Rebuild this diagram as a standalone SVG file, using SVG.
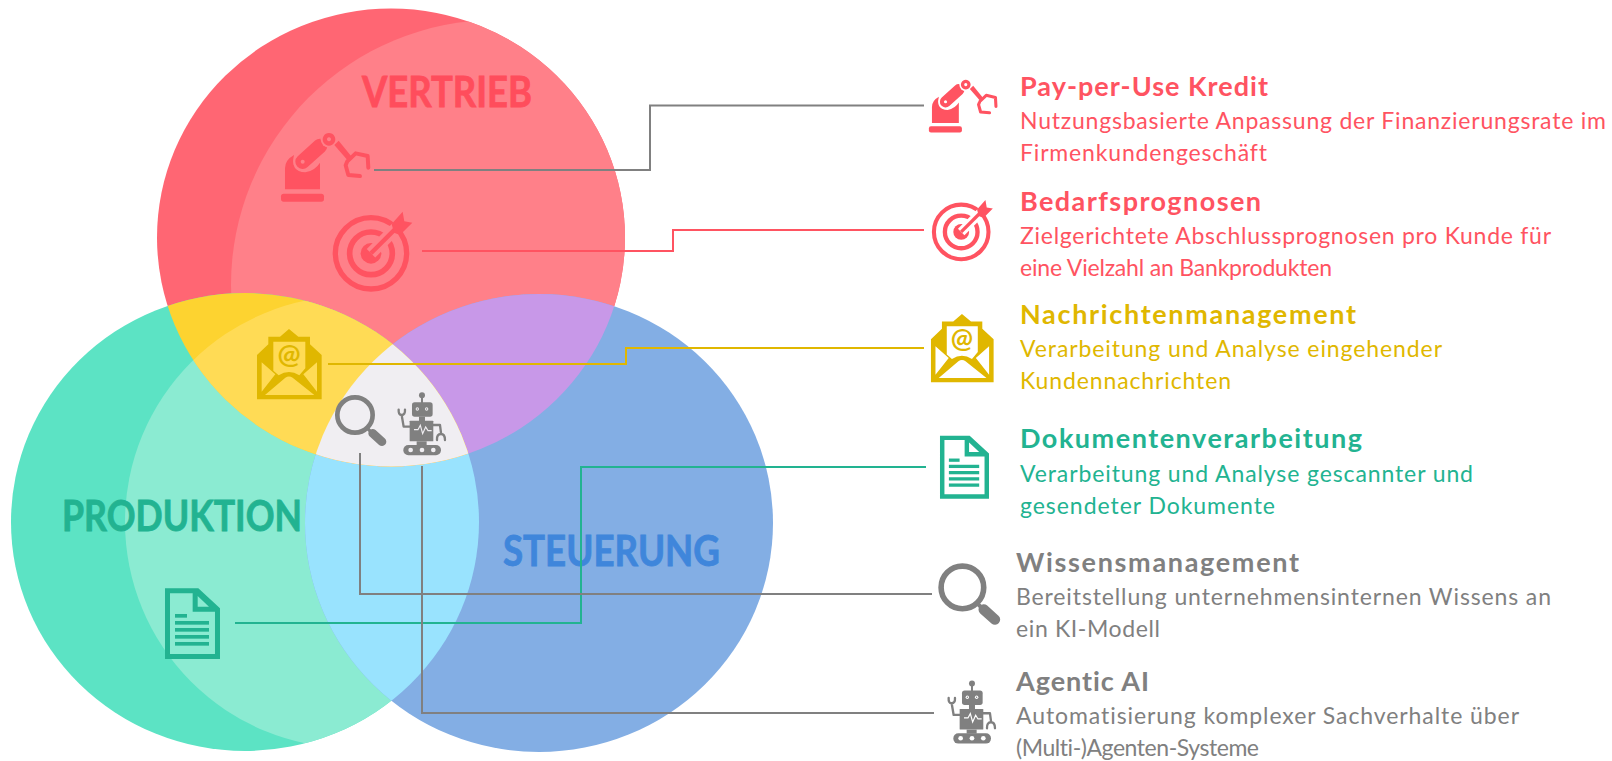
<svg xmlns="http://www.w3.org/2000/svg" xmlns:xlink="http://www.w3.org/1999/xlink" width="1612" height="761" viewBox="0 0 1612 761">
<style>
text{font-family:"Lato","Carlito","Open Sans",sans-serif;font-variant-ligatures:none}
.t{font-weight:700;font-size:27px;stroke:currentColor;stroke-width:0}
.b{font-size:23px}
.lab{font-weight:700;font-size:42px;stroke-width:.8}
.red{fill:#ff5361;color:#fff}
.yel{fill:#e0b700;color:#fff}
.grn{fill:#22b391;color:#fff}
.gry{fill:#808080;color:#fff}
.bgc{fill:currentColor}
.c{fill:none;stroke-width:2}
.ln{fill:none;stroke-linecap:round;stroke-linejoin:round}
</style>
<defs>
<ellipse id="eR" cx="391" cy="237.5" rx="234" ry="229"/>
<ellipse id="eG" cx="245" cy="522" rx="234" ry="229"/>
<ellipse id="eB" cx="539" cy="523" rx="234" ry="229"/>
<clipPath id="cR"><use href="#eR"/></clipPath>
<clipPath id="cG"><use href="#eG"/></clipPath>
<clipPath id="cB"><use href="#eB"/></clipPath>

<g id="i-arm">
<rect x="123" y="281" width="129" height="24" rx="8"/>
<path d="M135 268V205Q135 180 162 165Q150 215 196 217Q225 212 240 188V268Z"/>
<path d="M188 185L246 135" stroke-width="56" stroke-linecap="round" style="stroke:currentColor"/>
<path d="M188 185L240 138" fill="none" stroke-width="44" stroke-linecap="round" style="stroke:var(--ic)"/>
<circle cx="188" cy="185" r="6" class="bgc"/>
<circle cx="267" cy="118" r="25" class="bgc"/>
<path fill-rule="evenodd" d="M267 99a19 19 0 1 0 .01 0ZM267 112a6 6 0 1 1-.01 0Z"/>
<path d="M283 135L296 122L335 170L322 180Z"/>
<path class="ln" d="M322 184L347 160L383 168L385 203M322 184L317 196L325 225L360 228" stroke-width="12" style="stroke:var(--ic)"/>
</g>

<g id="i-target">
<circle cx="393" cy="460" r="107" fill="none" stroke-width="16" style="stroke:var(--ic)"/>
<circle cx="393" cy="460" r="64" fill="none" stroke-width="17" style="stroke:var(--ic)"/>
<circle cx="393" cy="460" r="31"/>
<path d="M393 460L480 373" fill="none" stroke-width="36" style="stroke:currentColor"/>
<path d="M393 460L470 383" fill="none" stroke-width="13" style="stroke:var(--ic)"/>
<path d="M455 372L488 335L493 364L517 368L480 405L462 398Z"/>
</g>

<g id="i-mail">
<path d="M111 298V165L145 133V110H180L207 87L235 110H270V133L305 165V298Z"/>
<path class="bgc" d="M160 125H256V205L238 226Q207 206 176 226L160 212Z"/>
<path class="bgc" d="M125 187L166 223L125 275ZM291 187V275L250 223ZM135 285L196 233Q207 226 218 233L283 285Z"/>
<text x="207" y="193" font-size="82" font-weight="700" text-anchor="middle">@</text>
</g>

<g id="i-doc">
<path fill-rule="evenodd" d="M105 145H205L270 205V357H105ZM120 160V342H255V215H188V160Z"/>
<path class="bgc" d="M203 168L237 200H203Z"/>
<rect x="135" y="222" width="36" height="11"/>
<rect x="135" y="243" width="102" height="11"/>
<rect x="135" y="264" width="102" height="11"/>
<rect x="135" y="285" width="102" height="11"/>
<rect x="135" y="306" width="102" height="11"/>
</g>

<g id="i-lens">
<circle cx="405" cy="345" r="53" fill="none" stroke-width="14" style="stroke:var(--ic)"/>
<path d="M440 383L455 398" fill="none" stroke-width="10" style="stroke:var(--ic)"/>
<path d="M458 400L486 425" fill="none" stroke-width="26" stroke-linecap="round" style="stroke:var(--ic)"/>
</g>

<g id="i-robot">
<circle cx="606" cy="286" r="9"/>
<rect x="603" y="290" width="6" height="20"/>
<rect x="576" y="307" width="62" height="43" rx="8"/>
<circle cx="592" cy="327" r="5" class="bgc"/>
<circle cx="620" cy="327" r="5" class="bgc"/>
<circle cx="592" cy="327" r="2"/>
<circle cx="620" cy="327" r="2"/>
<rect x="597" y="350" width="18" height="13"/>
<rect x="569" y="362" width="71" height="62" rx="2"/>
<path d="M582 389H594L601 376L608 401L617 381L624 392H635" fill="none" stroke-width="3.500" style="stroke:currentColor"/>
<path class="ln" d="M569 380H551L545 345M536 329Q535 345 545 345Q556 345 555 329M640 375H660L663 398M651 420Q650 402 663 402Q675 402 675 420" stroke-width="7" style="stroke:var(--ic)"/>
<rect x="590" y="424" width="30" height="12"/>
<rect x="550" y="435" width="113" height="31" rx="15"/>
<circle cx="572" cy="450" r="7" class="bgc"/>
<circle cx="606" cy="450" r="7" class="bgc"/>
<circle cx="640" cy="450" r="7" class="bgc"/>
</g>
</defs>

<g id="venn">
<g id="circle-vertrieb">
<use href="#eR" fill="#ff6673"/>
<g clip-path="url(#cR)"><circle cx="496" cy="285" r="265" fill="#ff8089"/></g>
</g>
<g id="circle-produktion">
<use href="#eG" fill="#5ce3c4"/>
<g clip-path="url(#cG)"><circle cx="351" cy="522" r="226" fill="#8bebd2"/></g>
</g>
<g id="circle-steuerung">
<use href="#eB" fill="#83aee4"/>
</g>
<g id="overlaps">
<g clip-path="url(#cG)"><use href="#eB" fill="#99e3fe"/></g>
<g clip-path="url(#cR)"><use href="#eB" fill="#c898e8"/></g>
<g clip-path="url(#cR)"><use href="#eG" fill="#fdd330"/></g>
<g clip-path="url(#cR)"><g clip-path="url(#cG)"><circle cx="351" cy="522" r="226" fill="#ffdb55"/></g></g>
<g clip-path="url(#cR)"><g clip-path="url(#cG)"><use href="#eB" fill="#f0eef2"/></g></g>
</g>
<text class="lab" x="362" y="107" textLength="170" lengthAdjust="spacingAndGlyphs" fill="#ff4d5c" stroke="#ff4d5c">VERTRIEB</text>
<text class="lab" x="62" y="531" textLength="240" lengthAdjust="spacingAndGlyphs" fill="#22b391" stroke="#22b391">PRODUKTION</text>
<text class="lab" x="503" y="566" textLength="217" lengthAdjust="spacingAndGlyphs" fill="#3f86db" stroke="#3f86db">STEUERUNG</text>
</g>

<g id="connectors">
<path class="c" stroke="#808080" d="M374 170H650V105.500H924"/>
<path class="c" stroke="#ff5361" d="M422 251H673V230H924"/>
<path class="c" stroke="#e0b700" d="M328 364H626V348H924"/>
<path class="c" stroke="#22b391" d="M235 623H581V467H926"/>
<path class="c" stroke="#808080" d="M360 453V594H932"/>
<path class="c" stroke="#808080" d="M422 466V713H934"/>
</g>

<g id="icons-in-venn">
<use id="venn-arm" href="#i-arm" transform="translate(240 100) scale(.3333)" style="--ic:#ff5361;fill:#ff5361;color:#ff8089"/>
<use id="venn-target" href="#i-target" transform="translate(240 100) scale(.3333)" style="--ic:#ff5361;fill:#ff5361;color:#ff8089"/>
<use id="venn-mail" href="#i-mail" transform="translate(220 300) scale(.3333)" style="--ic:#e0b700;fill:#e0b700;color:#ffdb55"/>
<use id="venn-doc" href="#i-doc" transform="translate(130 540) scale(.3333)" style="--ic:#22b391;fill:#22b391;color:#8bebd2"/>
<use id="venn-lens" href="#i-lens" transform="translate(220 300) scale(.3333)" style="--ic:#808080;fill:#808080;color:#f0eef2"/>
<use id="venn-robot" href="#i-robot" transform="translate(220 300) scale(.3333)" style="--ic:#808080;fill:#808080;color:#f0eef2"/>
</g>

<g id="node-pay-per-use" class="red">
<use href="#i-arm" transform="translate(897.400 54.400) scale(.256)" style="--ic:#ff5361"/>
<text class="t" x="1020" y="96" textLength="248">Pay-per-Use Kredit</text>
<text class="b" x="1020" y="129" textLength="586">Nutzungsbasierte Anpassung der Finanzierungsrate im</text>
<text class="b" x="1020" y="161" textLength="247">Firmenkundengeschäft</text>
</g>
<g id="node-bedarfsprognosen" class="red">
<use href="#i-target" transform="translate(861 114.600) scale(.255)" style="--ic:#ff5361"/>
<text class="t" x="1020" y="211" textLength="241">Bedarfsprognosen</text>
<text class="b" x="1020" y="244" textLength="531">Zielgerichtete Abschlussprognosen pro Kunde für</text>
<text class="b" x="1020" y="276" textLength="312">eine Vielzahl an Bankprodukten</text>
</g>
<g id="node-nachrichtenmanagement" class="yel">
<use href="#i-mail" transform="translate(895.100 285.900) scale(.323)" style="--ic:#e0b700"/>
<text class="t" x="1020" y="324" textLength="336">Nachrichtenmanagement</text>
<text class="b" x="1020" y="357" textLength="422">Verarbeitung und Analyse eingehender</text>
<text class="b" x="1020" y="389" textLength="211">Kundennachrichten</text>
</g>
<g id="node-dokumentenverarbeitung" class="grn">
<use href="#i-doc" transform="translate(908.800 392.600) scale(.297)" style="--ic:#22b391"/>
<text class="t" x="1020" y="448" textLength="342">Dokumentenverarbeitung</text>
<text class="b" x="1020" y="482" textLength="453">Verarbeitung und Analyse gescannter und</text>
<text class="b" x="1020" y="514" textLength="255">gesendeter Dokumente</text>
</g>
<g id="node-wissensmanagement" class="gry">
<use href="#i-lens" transform="translate(799.600 448.700) scale(.402)" style="--ic:#808080"/>
<text class="t" x="1016" y="572" textLength="283">Wissensmanagement</text>
<text class="b" x="1016" y="605" textLength="535">Bereitstellung unternehmensinternen Wissens an</text>
<text class="b" x="1016" y="637" textLength="144">ein KI-Modell</text>
</g>
<g id="node-agentic-ai" class="gry">
<use href="#i-robot" transform="translate(770 588.300) scale(.3333)" style="--ic:#808080"/>
<text class="t" x="1016" y="691" textLength="133">Agentic AI</text>
<text class="b" x="1016" y="724" textLength="503">Automatisierung komplexer Sachverhalte über</text>
<text class="b" x="1016" y="756" textLength="243">(Multi-)Agenten-Systeme</text>
</g>
</svg>
